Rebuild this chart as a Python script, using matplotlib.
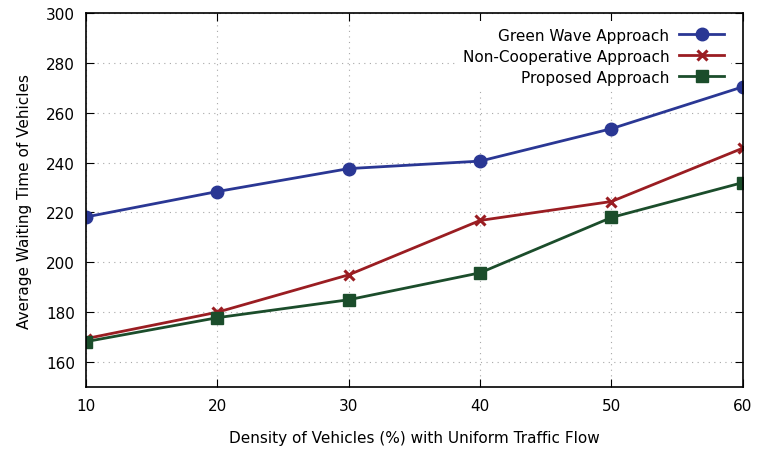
import numpy as np
import matplotlib.pyplot as plt

density = [10, 20, 30, 40, 50, 60]
green_wave = [218.2, 228.4, 237.6, 240.6, 253.6, 270.4]
non_coop = [169.4, 180.0, 195.0, 216.8, 224.4, 245.8]
proposed = [168.2, 177.8, 185.0, 195.8, 218.0, 232.0]

fig = plt.figure(figsize=(7.58, 4.52), dpi=100)
ax = fig.add_axes([0.1135, 0.1416, 0.8665, 0.8274])

ax.plot(density, green_wave, color='#2a3794', lw=2, marker='o', ms=9,
        label='Green Wave Approach')
ax.plot(density, non_coop, color='#9a1d22', lw=2, marker='x', ms=7, mew=2.2,
        label='Non-Cooperative Approach')
ax.plot(density, proposed, color='#1b4d2b', lw=2, marker='s', ms=8,
        label='Proposed Approach')

ax.set_xlim(10, 60)
ax.set_ylim(150, 300)
ax.set_xticks(density)
ax.set_yticks(np.arange(160, 301, 20))
ax.grid(True, linestyle=(0, (1, 4)), color='#a8a8a8', lw=0.8)
ax.set_axisbelow(True)
ax.tick_params(direction='in', top=True, right=True, length=6, labelsize=11, pad=8)
for s in ax.spines.values():
    s.set_linewidth(1.2)

ax.set_xlabel('Density of Vehicles (%) with Uniform Traffic Flow', fontsize=11, labelpad=12)
ax.set_ylabel('Average Waiting Time of Vehicles', fontsize=11, labelpad=10)

leg = ax.legend(loc='upper right', markerfirst=False, frameon=True, fontsize=11,
                handlelength=3.0, bbox_to_anchor=(0.993, 0.998),
                labelspacing=0.4, handletextpad=0.6)
leg.get_frame().set_edgecolor('none')
leg.get_frame().set_facecolor('white')
leg.get_frame().set_alpha(1)
leg.set_zorder(1.5)

fig.savefig('out.png', dpi=100)
